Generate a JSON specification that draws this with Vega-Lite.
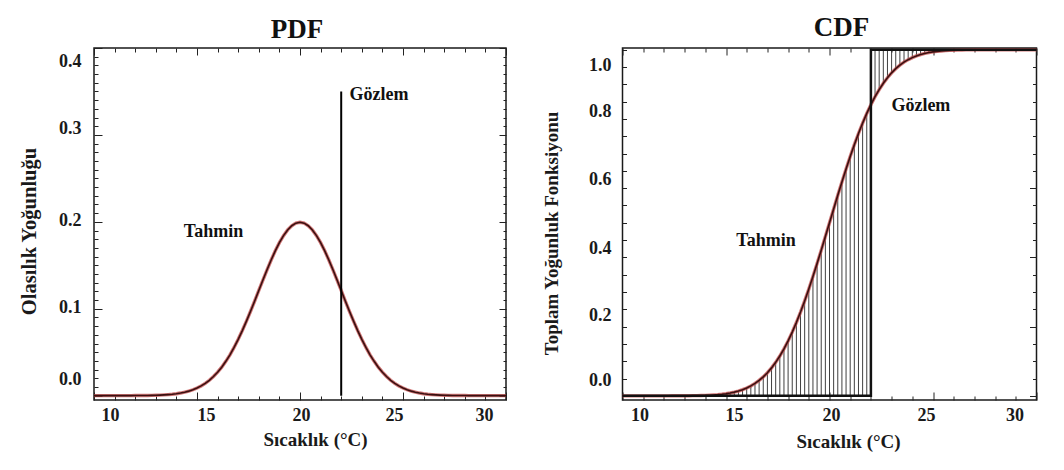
{
  "$schema": "https://vega.github.io/schema/vega-lite/v6.json",
  "background": "white",
  "padding": {"left": 18, "top": 13, "right": 10, "bottom": 10},
  "config": {
    "font": "Liberation Serif",
    "view": {"stroke": "#1a1a1a", "strokeWidth": 1.5},
    "axis": {
      "domain": false,
      "grid": false,
      "minExtent": 0,
      "labelFont": "Liberation Serif",
      "labelFontWeight": "bold",
      "labelFontSize": 18,
      "labelColor": "#1a1a1a",
      "tickColor": "#222222",
      "tickWidth": 1,
      "titleFont": "Liberation Serif",
      "titleFontWeight": "bold",
      "titleFontSize": 19,
      "titleColor": "#1a1a1a",
      "labelOverlap": false,
      "labelFlush": false,
      "labelBound": false
    },
    "title": {"font": "Liberation Serif", "fontWeight": "bold", "fontSize": 27, "color": "#111111"}
  },
  "datasets": {
    "egriler": [
      {"x": 10.0, "pdf": 0, "cdf": 0, "obs": 0},
      {"x": 10.2, "pdf": 0, "cdf": 0, "obs": 0},
      {"x": 10.4, "pdf": 0, "cdf": 0, "obs": 0},
      {"x": 10.6, "pdf": 0, "cdf": 0, "obs": 0},
      {"x": 10.8, "pdf": 0, "cdf": 0, "obs": 0},
      {"x": 11.0, "pdf": 0, "cdf": 0, "obs": 0},
      {"x": 11.2, "pdf": 0, "cdf": 0, "obs": 0},
      {"x": 11.4, "pdf": 0, "cdf": 0, "obs": 0},
      {"x": 11.6, "pdf": 0, "cdf": 0, "obs": 0},
      {"x": 11.8, "pdf": 0, "cdf": 0, "obs": 0},
      {"x": 12.0, "pdf": 0.0001, "cdf": 0, "obs": 0},
      {"x": 12.2, "pdf": 0.0001, "cdf": 0, "obs": 0},
      {"x": 12.4, "pdf": 0.0001, "cdf": 0.0001, "obs": 0},
      {"x": 12.6, "pdf": 0.0002, "cdf": 0.0001, "obs": 0},
      {"x": 12.8, "pdf": 0.0003, "cdf": 0.0002, "obs": 0},
      {"x": 13.0, "pdf": 0.0004, "cdf": 0.0002, "obs": 0},
      {"x": 13.2, "pdf": 0.0006, "cdf": 0.0003, "obs": 0},
      {"x": 13.4, "pdf": 0.0009, "cdf": 0.0005, "obs": 0},
      {"x": 13.6, "pdf": 0.0012, "cdf": 0.0007, "obs": 0},
      {"x": 13.8, "pdf": 0.0016, "cdf": 0.0010, "obs": 0},
      {"x": 14.0, "pdf": 0.0022, "cdf": 0.0013, "obs": 0},
      {"x": 14.2, "pdf": 0.0030, "cdf": 0.0019, "obs": 0},
      {"x": 14.4, "pdf": 0.0040, "cdf": 0.0026, "obs": 0},
      {"x": 14.6, "pdf": 0.0052, "cdf": 0.0035, "obs": 0},
      {"x": 14.8, "pdf": 0.0068, "cdf": 0.0047, "obs": 0},
      {"x": 15.0, "pdf": 0.0088, "cdf": 0.0062, "obs": 0},
      {"x": 15.2, "pdf": 0.0112, "cdf": 0.0082, "obs": 0},
      {"x": 15.4, "pdf": 0.0142, "cdf": 0.0107, "obs": 0},
      {"x": 15.6, "pdf": 0.0177, "cdf": 0.0139, "obs": 0},
      {"x": 15.8, "pdf": 0.0220, "cdf": 0.0179, "obs": 0},
      {"x": 16.0, "pdf": 0.0270, "cdf": 0.0228, "obs": 0},
      {"x": 16.2, "pdf": 0.0328, "cdf": 0.0287, "obs": 0},
      {"x": 16.4, "pdf": 0.0395, "cdf": 0.0359, "obs": 0},
      {"x": 16.6, "pdf": 0.0470, "cdf": 0.0446, "obs": 0},
      {"x": 16.8, "pdf": 0.0555, "cdf": 0.0548, "obs": 0},
      {"x": 17.0, "pdf": 0.0648, "cdf": 0.0668, "obs": 0},
      {"x": 17.2, "pdf": 0.0749, "cdf": 0.0808, "obs": 0},
      {"x": 17.4, "pdf": 0.0857, "cdf": 0.0968, "obs": 0},
      {"x": 17.6, "pdf": 0.0971, "cdf": 0.1151, "obs": 0},
      {"x": 17.8, "pdf": 0.1089, "cdf": 0.1357, "obs": 0},
      {"x": 18.0, "pdf": 0.1210, "cdf": 0.1587, "obs": 0},
      {"x": 18.2, "pdf": 0.1330, "cdf": 0.1841, "obs": 0},
      {"x": 18.4, "pdf": 0.1448, "cdf": 0.2119, "obs": 0},
      {"x": 18.6, "pdf": 0.1561, "cdf": 0.2420, "obs": 0},
      {"x": 18.8, "pdf": 0.1666, "cdf": 0.2743, "obs": 0},
      {"x": 19.0, "pdf": 0.1760, "cdf": 0.3085, "obs": 0},
      {"x": 19.2, "pdf": 0.1841, "cdf": 0.3446, "obs": 0},
      {"x": 19.4, "pdf": 0.1907, "cdf": 0.3821, "obs": 0},
      {"x": 19.6, "pdf": 0.1955, "cdf": 0.4207, "obs": 0},
      {"x": 19.8, "pdf": 0.1985, "cdf": 0.4602, "obs": 0},
      {"x": 20.0, "pdf": 0.1995, "cdf": 0.5000, "obs": 0},
      {"x": 20.2, "pdf": 0.1985, "cdf": 0.5398, "obs": 0},
      {"x": 20.4, "pdf": 0.1955, "cdf": 0.5793, "obs": 0},
      {"x": 20.6, "pdf": 0.1907, "cdf": 0.6179, "obs": 0},
      {"x": 20.8, "pdf": 0.1841, "cdf": 0.6554, "obs": 0},
      {"x": 21.0, "pdf": 0.1760, "cdf": 0.6915, "obs": 0},
      {"x": 21.2, "pdf": 0.1666, "cdf": 0.7257, "obs": 0},
      {"x": 21.4, "pdf": 0.1561, "cdf": 0.7580, "obs": 0},
      {"x": 21.6, "pdf": 0.1448, "cdf": 0.7881, "obs": 0},
      {"x": 21.8, "pdf": 0.1330, "cdf": 0.8159, "obs": 0},
      {"x": 22.0, "pdf": 0.1210, "cdf": 0.8413, "obs": 1},
      {"x": 22.2, "pdf": 0.1089, "cdf": 0.8643, "obs": 1},
      {"x": 22.4, "pdf": 0.0971, "cdf": 0.8849, "obs": 1},
      {"x": 22.6, "pdf": 0.0857, "cdf": 0.9032, "obs": 1},
      {"x": 22.8, "pdf": 0.0749, "cdf": 0.9192, "obs": 1},
      {"x": 23.0, "pdf": 0.0648, "cdf": 0.9332, "obs": 1},
      {"x": 23.2, "pdf": 0.0555, "cdf": 0.9452, "obs": 1},
      {"x": 23.4, "pdf": 0.0470, "cdf": 0.9554, "obs": 1},
      {"x": 23.6, "pdf": 0.0395, "cdf": 0.9641, "obs": 1},
      {"x": 23.8, "pdf": 0.0328, "cdf": 0.9713, "obs": 1},
      {"x": 24.0, "pdf": 0.0270, "cdf": 0.9772, "obs": 1},
      {"x": 24.2, "pdf": 0.0220, "cdf": 0.9821, "obs": 1},
      {"x": 24.4, "pdf": 0.0177, "cdf": 0.9861, "obs": 1},
      {"x": 24.6, "pdf": 0.0142, "cdf": 0.9893, "obs": 1},
      {"x": 24.8, "pdf": 0.0112, "cdf": 0.9918, "obs": 1},
      {"x": 25.0, "pdf": 0.0088, "cdf": 0.9938, "obs": 1},
      {"x": 25.2, "pdf": 0.0068, "cdf": 0.9953, "obs": 1},
      {"x": 25.4, "pdf": 0.0052, "cdf": 0.9965, "obs": 1},
      {"x": 25.6, "pdf": 0.0040, "cdf": 0.9974, "obs": 1},
      {"x": 25.8, "pdf": 0.0030, "cdf": 0.9981, "obs": 1},
      {"x": 26.0, "pdf": 0.0022, "cdf": 0.9987, "obs": 1},
      {"x": 26.2, "pdf": 0.0016, "cdf": 0.9990, "obs": 1},
      {"x": 26.4, "pdf": 0.0012, "cdf": 0.9993, "obs": 1},
      {"x": 26.6, "pdf": 0.0009, "cdf": 0.9995, "obs": 1},
      {"x": 26.8, "pdf": 0.0006, "cdf": 0.9997, "obs": 1},
      {"x": 27.0, "pdf": 0.0004, "cdf": 0.9998, "obs": 1},
      {"x": 27.2, "pdf": 0.0003, "cdf": 0.9998, "obs": 1},
      {"x": 27.4, "pdf": 0.0002, "cdf": 0.9999, "obs": 1},
      {"x": 27.6, "pdf": 0.0001, "cdf": 0.9999, "obs": 1},
      {"x": 27.8, "pdf": 0.0001, "cdf": 1, "obs": 1},
      {"x": 28.0, "pdf": 0.0001, "cdf": 1, "obs": 1},
      {"x": 28.2, "pdf": 0, "cdf": 1, "obs": 1},
      {"x": 28.4, "pdf": 0, "cdf": 1, "obs": 1},
      {"x": 28.6, "pdf": 0, "cdf": 1, "obs": 1},
      {"x": 28.8, "pdf": 0, "cdf": 1, "obs": 1},
      {"x": 29.0, "pdf": 0, "cdf": 1, "obs": 1},
      {"x": 29.2, "pdf": 0, "cdf": 1, "obs": 1},
      {"x": 29.4, "pdf": 0, "cdf": 1, "obs": 1},
      {"x": 29.6, "pdf": 0, "cdf": 1, "obs": 1},
      {"x": 29.8, "pdf": 0, "cdf": 1, "obs": 1},
      {"x": 30.0, "pdf": 0, "cdf": 1, "obs": 1}
    ],
    "gozlem_pdf": [{"gozlem": 22, "alt": 0, "ust": 0.35}],
    "etiket_pdf": [
      {"x": 14.36, "y": 0.1825, "t": "Tahmin"},
      {"x": 22.4, "y": 0.34, "t": "Gözlem"}
    ],
    "etiket_cdf": [
      {"x": 15.5, "y": 0.434, "t": "Tahmin"},
      {"x": 22.99, "y": 0.824, "t": "Gözlem"}
    ]
  },
  "bounds": "flush",
  "spacing": 116.5,
  "hconcat": [
    {
      "width": 412,
      "height": 352,
      "title": {"text": "PDF", "frame": "group", "offset": -17, "baseline": "alphabetic", "dx": -3},
      "data": {"name": "egriler"},
      "layer": [
        {
          "mark": {"type": "line", "color": "#c04848", "strokeWidth": 3.4, "opacity": 0.75},
          "encoding": {
            "x": {
              "field": "x", "type": "quantitative",
              "scale": {"domain": [10, 30], "nice": false, "zero": false},
              "axis": {
                "orient": "bottom",
                "values": [10,11,12,13,14,15,16,17,18,19,20,21,22,23,24,25,26,27,28,29,30],
                "tickSize": {"expr": "datum.value % 5 == 0 ? -8 : -4"},
                "labelExpr": "datum.value % 5 == 0 ? datum.label : ''",
                "labelPadding": 14,
                "labelOffset": {"expr": "datum.value == 10 ? 16 : datum.value == 15 ? 9 : datum.value == 20 ? 1 : datum.value == 25 ? -9 : -22"},
                "title": "Sıcaklık (°C)",
                "titleX": 221,
                "titleY": 45,
                "titleBaseline": "alphabetic"
              }
            },
            "y": {
              "field": "pdf", "type": "quantitative",
              "scale": {"domain": [-0.005, 0.4], "nice": false, "zero": false},
              "axis": {
                "orient": "left",
                "values": [0,0.01,0.02,0.03,0.04,0.05,0.06,0.07,0.08,0.09,0.1,0.11,0.12,0.13,0.14,0.15,0.16,0.17,0.18,0.19,0.2,0.21,0.22,0.23,0.24,0.25,0.26,0.27,0.28,0.29,0.3,0.31,0.32,0.33,0.34,0.35,0.36,0.37,0.38,0.39,0.4],
                "tickSize": {"expr": "abs(datum.value * 10 - round(datum.value * 10)) < 0.001 ? -8 : -4"},
                "labelExpr": "abs(datum.value * 10 - round(datum.value * 10)) < 0.001 ? format(datum.value, '.1f') : ''",
                "labelPadding": 21,
                "labelOffset": {"expr": "datum.value > 0.35 ? 13 : datum.value > 0.25 ? -6 : datum.value > 0.05 ? -1 : -16"},
                "title": "Olasılık Yoğunluğu",
                "titleFontSize": 20.5,
                "titleAngle": -90,
                "titleX": -59,
                "titleY": 183,
                "titleAlign": "center",
                "titleBaseline": "alphabetic"
              }
            }
          }
        },
        {
          "mark": {"type": "line", "color": "#3a1010", "strokeWidth": 1.6},
          "encoding": {
            "x": {
              "field": "x", "type": "quantitative",
              "axis": {
                "orient": "top",
                "values": [10,11,12,13,14,15,16,17,18,19,20,21,22,23,24,25,26,27,28,29,30],
                "tickSize": {"expr": "datum.value % 5 == 0 ? -7 : -4"},
                "labels": false,
                "title": null
              }
            },
            "y": {
              "field": "pdf", "type": "quantitative",
              "axis": {
                "orient": "right",
                "values": [0,0.01,0.02,0.03,0.04,0.05,0.06,0.07,0.08,0.09,0.1,0.11,0.12,0.13,0.14,0.15,0.16,0.17,0.18,0.19,0.2,0.21,0.22,0.23,0.24,0.25,0.26,0.27,0.28,0.29,0.3,0.31,0.32,0.33,0.34,0.35,0.36,0.37,0.38,0.39,0.4],
                "tickSize": {"expr": "abs(datum.value * 10 - round(datum.value * 10)) < 0.001 ? -7 : -3"},
                "labels": false,
                "title": null
              }
            }
          }
        },
        {
          "data": {"name": "gozlem_pdf"},
          "mark": {"type": "rule", "color": "#000000", "strokeWidth": 2},
          "encoding": {
            "x": {"field": "gozlem", "type": "quantitative", "axis": null},
            "y": {"field": "alt", "type": "quantitative", "axis": null},
            "y2": {"field": "ust"}
          }
        },
        {
          "data": {"name": "etiket_pdf"},
          "mark": {"type": "text", "font": "Liberation Serif", "fontWeight": "bold", "fontSize": 18, "align": "left", "baseline": "alphabetic", "color": "#111111"},
          "encoding": {
            "x": {"field": "x", "type": "quantitative", "axis": null},
            "y": {"field": "y", "type": "quantitative", "axis": null},
            "text": {"field": "t"}
          }
        }
      ],
      "resolve": {"axis": {"x": "independent", "y": "independent"}}
    },
    {
      "width": 414,
      "height": 352,
      "title": {"text": "CDF", "frame": "group", "offset": -20, "baseline": "alphabetic", "dx": 12},
      "data": {"name": "egriler"},
      "layer": [
        {
          "mark": {"type": "rule", "color": "#2a2a2a", "strokeWidth": 0.9},
          "encoding": {
            "x": {
              "field": "x", "type": "quantitative",
              "scale": {"domain": [10, 30], "nice": false, "zero": false},
              "axis": {
                "orient": "bottom",
                "values": [10,11,12,13,14,15,16,17,18,19,20,21,22,23,24,25,26,27,28,29,30],
                "tickSize": {"expr": "datum.value % 5 == 0 ? -8 : -4"},
                "labelExpr": "datum.value % 5 == 0 ? datum.label : ''",
                "labelPadding": 14,
                "labelOffset": {"expr": "datum.value == 10 ? 17 : datum.value == 15 ? 8 : datum.value == 20 ? 1.5 : datum.value == 25 ? -7 : -22"},
                "title": "Sıcaklık (°C)",
                "titleX": 225.5,
                "titleY": 47,
                "titleBaseline": "alphabetic"
              }
            },
            "y": {
              "field": "cdf", "type": "quantitative",
              "scale": {"domain": [-0.012, 1.005], "nice": false, "zero": false},
              "axis": {
                "orient": "left",
                "values": [0,0.05,0.1,0.15,0.2,0.25,0.3,0.35,0.4,0.45,0.5,0.55,0.6,0.65,0.7,0.75,0.8,0.85,0.9,0.95,1],
                "tickSize": -4,
                "labelExpr": "abs(datum.value * 5 - round(datum.value * 5)) < 0.001 ? format(datum.value, '.1f') : ''",
                "labelPadding": 15.5,
                "labelOffset": {"expr": "datum.value > 0.9 ? 16 : datum.value > 0.7 ? -7 : datum.value > 0.3 ? -9 : datum.value > 0.1 ? -11 : -15"},
                "title": "Toplam Yoğunluk Fonksiyonu",
                "titleAngle": -90,
                "titleX": -65,
                "titleY": 185,
                "titleAlign": "center",
                "titleBaseline": "alphabetic"
              }
            },
            "y2": {"field": "obs"}
          }
        },
        {
          "mark": {"type": "line", "color": "#c04848", "strokeWidth": 3.4, "opacity": 0.75},
          "encoding": {
            "x": {
              "field": "x", "type": "quantitative",
              "axis": {
                "orient": "top",
                "values": [10,11,12,13,14,15,16,17,18,19,20,21,22,23,24,25,26,27,28,29,30],
                "tickSize": {"expr": "datum.value % 5 == 0 ? -7 : -4"},
                "labels": false,
                "title": null
              }
            },
            "y": {
              "field": "cdf", "type": "quantitative",
              "axis": {
                "orient": "right",
                "values": [0,0.05,0.1,0.15,0.2,0.25,0.3,0.35,0.4,0.45,0.5,0.55,0.6,0.65,0.7,0.75,0.8,0.85,0.9,0.95,1],
                "tickSize": {"expr": "abs(datum.value * 5 - round(datum.value * 5)) < 0.001 ? -7 : -4"},
                "labels": false,
                "title": null
              }
            }
          }
        },
        {
          "mark": {"type": "line", "color": "#3a1010", "strokeWidth": 1.6},
          "encoding": {
            "x": {"field": "x", "type": "quantitative", "axis": null},
            "y": {"field": "cdf", "type": "quantitative", "axis": null}
          }
        },
        {
          "mark": {"type": "line", "color": "#111111", "strokeWidth": 2.5, "interpolate": "step-after"},
          "encoding": {
            "x": {"field": "x", "type": "quantitative", "axis": null},
            "y": {"field": "obs", "type": "quantitative", "axis": null}
          }
        },
        {
          "data": {"name": "etiket_cdf"},
          "mark": {"type": "text", "font": "Liberation Serif", "fontWeight": "bold", "fontSize": 18, "align": "left", "baseline": "alphabetic", "color": "#111111"},
          "encoding": {
            "x": {"field": "x", "type": "quantitative", "axis": null},
            "y": {"field": "y", "type": "quantitative", "axis": null},
            "text": {"field": "t"}
          }
        }
      ],
      "resolve": {"axis": {"x": "independent", "y": "independent"}}
    }
  ]
}
